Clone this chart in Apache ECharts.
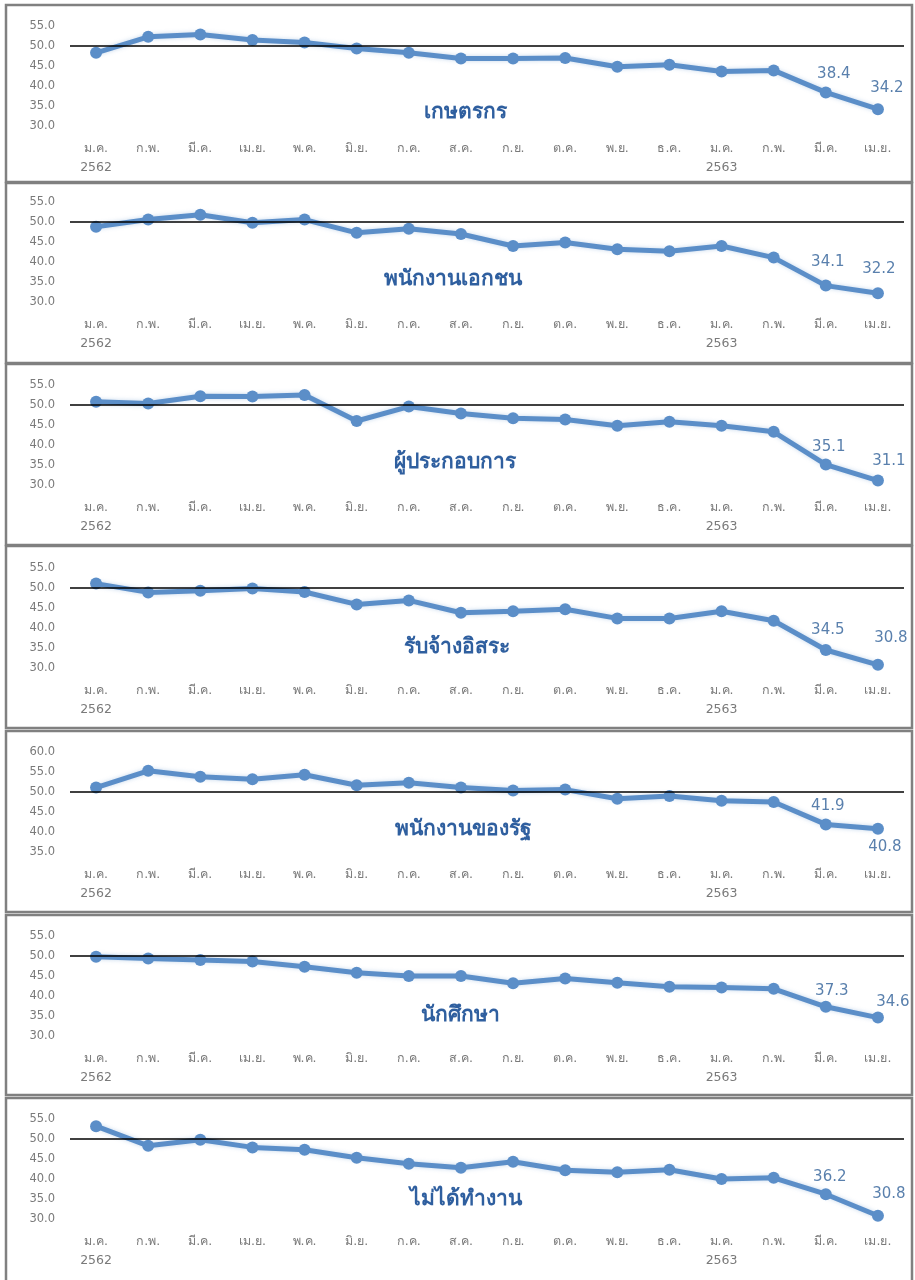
<!DOCTYPE html>
<html>
<head>
<meta charset="utf-8">
<script src="https://cdn.jsdelivr.net/npm/echarts@6/dist/echarts.min.js"></script>
<style>
html,body{margin:0;padding:0;background:#fff;}
#chart{width:915px;height:1280px;}
</style>
</head>
<body>
<div id="chart"></div>
<script>
// ---- data ----
const months = ['ม.ค.','ก.พ.','มี.ค.','เม.ย.','พ.ค.','มิ.ย.','ก.ค.','ส.ค.','ก.ย.','ต.ค.','พ.ย.','ธ.ค.','ม.ค.','ก.พ.','มี.ค.','เม.ย.'];
const years = ['2562','','','','','','','','','','','','2563','','',''];
const groups = ['เกษตรกร','พนักงานเอกชน','ผู้ประกอบการ','รับจ้างอิสระ','พนักงานของรัฐ','นักศึกษา','ไม่ได้ทำงาน'];
const farmers   = [48.3, 52.3, 52.9, 51.5, 50.9, 49.4, 48.3, 46.9, 46.9, 47.0, 44.8, 45.3, 43.6, 43.9, 38.4, 34.2];
const privateEmp= [48.8, 50.6, 51.8, 49.8, 50.6, 47.3, 48.3, 47.0, 44.0, 44.9, 43.2, 42.7, 44.0, 41.1, 34.1, 32.2];
const business  = [50.8, 50.4, 52.2, 52.1, 52.5, 46.0, 49.6, 47.9, 46.7, 46.4, 44.8, 45.8, 44.8, 43.3, 35.1, 31.1];
const freelance = [51.1, 48.9, 49.3, 49.9, 49.0, 45.9, 46.9, 43.8, 44.2, 44.7, 42.4, 42.4, 44.2, 41.8, 34.5, 30.8];
const govEmp    = [51.1, 55.3, 53.8, 53.2, 54.3, 51.7, 52.3, 51.1, 50.4, 50.6, 48.3, 49.0, 47.8, 47.5, 41.9, 40.8];
const students  = [49.8, 49.4, 49.0, 48.6, 47.3, 45.8, 45.0, 45.0, 43.2, 44.4, 43.3, 42.3, 42.1, 41.8, 37.3, 34.6];
const unemployed= [53.2, 48.3, 49.8, 47.9, 47.3, 45.3, 43.8, 42.8, 44.3, 42.2, 41.7, 42.3, 40.0, 40.3, 36.2, 30.8];
const seriesValues = [farmers, privateEmp, business, freelance, govEmp, students, unemployed];
const yMins = [30, 30, 30, 30, 35, 30, 30];
const yMaxs = [55, 55, 55, 55, 60, 55, 55];
const yStep = 5;
const refLevel = 50;

// ---- layout / style ----
const gridTops = [26, 202, 385, 568, 752, 936, 1119];
const gridH = 100;
const panelBoxes = [[5,177],[183,180],[364,181],[546,182],[731,181],[915,180],[1098,190]];
const titleX = [465, 453, 455, 457, 463, 460, 466];
const titleY = [112, 279, 462, 647, 829, 1015, 1199];
const labelA = [{p:'top',o:[8,0]},{p:'top',o:[2,-5]},{p:'top',o:[3,1]},{p:'top',o:[2,-1]},{p:'top',o:[2,0]},{p:'top',o:[6,3]},{p:'top',o:[4,1]}];
const labelB = [{p:'top',o:[9,-3]},{p:'top',o:[1,-6]},{p:'top',o:[11,-1]},{p:'top',o:[13,-8]},{p:'bottom',o:[7,0]},{p:'top',o:[15,3]},{p:'top',o:[11,-3]}];
const lineColor = '#5B8EC8';
const labelColor = '#5a80ad';
const axisColor = '#7a7a7a';
const titleColor = '#2f5f9f';

const grids = [], xAxes = [], yAxes = [], series = [], graphics = [];
seriesValues.forEach((vals, k) => {
  grids.push({left: 70, right: 11, top: gridTops[k], height: gridH, containLabel: false});
  xAxes.push({
    type: 'category', gridIndex: k, data: months, boundaryGap: true,
    axisLine: {show: false}, axisTick: {show: false},
    axisLabel: {
      interval: 0, margin: 13, color: axisColor, fontSize: 12.5, lineHeight: 19,
      fontFamily: 'Tahoma, "DejaVu Sans", sans-serif',
      formatter: (v, i) => years[i] ? v + '\n' + years[i] : v
    }
  });
  yAxes.push({
    type: 'value', gridIndex: k, min: yMins[k], max: yMaxs[k], interval: yStep,
    axisLine: {show: false}, axisTick: {show: false}, splitLine: {show: false},
    axisLabel: {margin: 15, color: axisColor, fontSize: 11.5, fontFamily: '"DejaVu Sans", sans-serif',
      formatter: v => v.toFixed(1)}
  });
  const n = vals.length;
  series.push({
    type: 'line', xAxisIndex: k, yAxisIndex: k,
    data: vals.map((v, i) => {
      if (i === n - 2 || i === n - 1) {
        const L = i === n - 2 ? labelA[k] : labelB[k];
        return {value: v, label: {show: true, position: L.p, offset: L.o}};
      }
      return v;
    }),
    symbol: 'circle', symbolSize: 12,
    itemStyle: {color: lineColor},
    lineStyle: {color: lineColor, width: 5, shadowColor: 'rgba(91,142,200,0.35)', shadowBlur: 4},
    label: {show: false, color: labelColor, fontSize: 15, fontFamily: '"DejaVu Sans", sans-serif',
      formatter: p => p.value.toFixed(1)},
    markLine: {
      silent: true, symbol: 'none', label: {show: false},
      lineStyle: {color: '#000', width: 1.5, type: 'solid'},
      data: [{yAxis: refLevel}]
    },
    z: 3, animation: false
  });
  const b = panelBoxes[k];
  graphics.push({type: 'rect', shape: {x: 6, y: b[0], width: 906, height: b[1]},
    style: {fill: 'none', stroke: '#808080', lineWidth: 2.5}, z: -1});
  graphics.push({type: 'text', x: titleX[k], y: titleY[k],
    style: {text: groups[k], fill: titleColor, font: 'bold 21px Tahoma, "Noto Sans", sans-serif',
      textAlign: 'center', textVerticalAlign: 'middle'}, z: 10});
});

const chart = echarts.init(document.getElementById('chart'), null, {renderer: 'canvas'});
chart.setOption({
  backgroundColor: '#fff', animation: false,
  grid: grids, xAxis: xAxes, yAxis: yAxes, series: series, graphic: graphics
});
</script>
</body>
</html>
